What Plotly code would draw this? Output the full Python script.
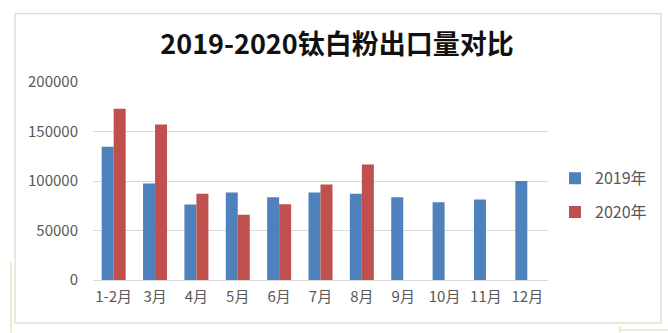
import plotly.graph_objects as go

# Monthly titanium dioxide export volume (tonnes)
months = ["1-2月", "3月", "4月", "5月", "6月", "7月", "8月", "9月", "10月", "11月", "12月"]
exports_2019 = [134500, 97500, 76300, 88400, 83700, 88400, 87000, 83700, 78600, 81300, 100100]
exports_2020 = [173000, 157000, 87000, 65900, 76600, 96500, 116600, None, None, None, None]
y_ticks = [0, 50000, 100000, 150000, 200000]
y_tick_text = ["0", "50000", "100000", "150000", "200000"]

W, H = 668, 333
L, R, T, B = 93, 120, 81.5, 53
pw, ph = W - L - R, H - T - B

FONT = "Noto Sans CJK SC, Noto Sans, sans-serif"
GRAY = "#595959"


def px_x(x):
    return (x - L) / pw


def px_y(y):
    return (H - B - y) / ph


fig = go.Figure()
fig.add_trace(go.Bar(x=months, y=exports_2019, name="2019年",
                     marker=dict(color="#4F81BD", line=dict(width=0)),
                     legendgroup="a"))
fig.add_trace(go.Bar(x=months, y=exports_2020, name="2020年",
                     marker=dict(color="#C0504D", line=dict(width=0)),
                     legendgroup="b"))

shapes = [
    # chart frame
    dict(type="rect", xref="paper", yref="paper",
         x0=px_x(15), x1=px_x(661), y0=px_y(323), y1=px_y(13),
         line=dict(color="#d9d9d9", width=1.2), layer="below"),
    # decorative corner lines
    dict(type="line", xref="paper", yref="paper",
         x0=px_x(11), x1=px_x(11), y0=px_y(262), y1=px_y(333),
         line=dict(color="#f2e2b8", width=1.5)),
    dict(type="line", xref="paper", yref="paper",
         x0=px_x(620), x1=px_x(668), y0=px_y(330), y1=px_y(330),
         line=dict(color="#f2e2b8", width=1.5)),
    dict(type="line", xref="paper", yref="paper",
         x0=px_x(620), x1=px_x(620), y0=px_y(326), y1=px_y(333),
         line=dict(color="#f2e2b8", width=1.5)),
]

fig.update_layout(
    width=W, height=H,
    margin=dict(l=L, r=R, t=T, b=B, pad=0),
    paper_bgcolor="white", plot_bgcolor="white",
    font=dict(family=FONT, color=GRAY, size=15),
    title=dict(text="<b>2019-2020钛白粉出口量对比</b>",
               font=dict(family=FONT, size=27, color="#111111"),
               x=337 / W, xanchor="center",
               y=1 - 45 / H, yanchor="middle"),
    barmode="group", bargap=0.42, bargroupgap=0,
    xaxis=dict(showgrid=False, showline=False, ticks="",
               tickfont=dict(size=15, color=GRAY),
               ticklabelstandoff=6),
    yaxis=dict(range=[0, 200000], tickvals=y_ticks, ticktext=y_tick_text,
               showgrid=True, gridcolor="#d9d9d9", gridwidth=1,
               zeroline=True, zerolinecolor="#d9d9d9", zerolinewidth=1,
               showline=False, ticks="",
               tickfont=dict(size=15, color=GRAY),
               ticklabelstandoff=14),
    legend=dict(x=px_x(555), xanchor="left", y=px_y(161), yanchor="top",
                font=dict(size=16, color=GRAY), traceorder="grouped",
                tracegroupgap=10, itemwidth=30, bgcolor="rgba(0,0,0,0)"),
    shapes=shapes,
    showlegend=True,
)

fig.write_html("out.html")
